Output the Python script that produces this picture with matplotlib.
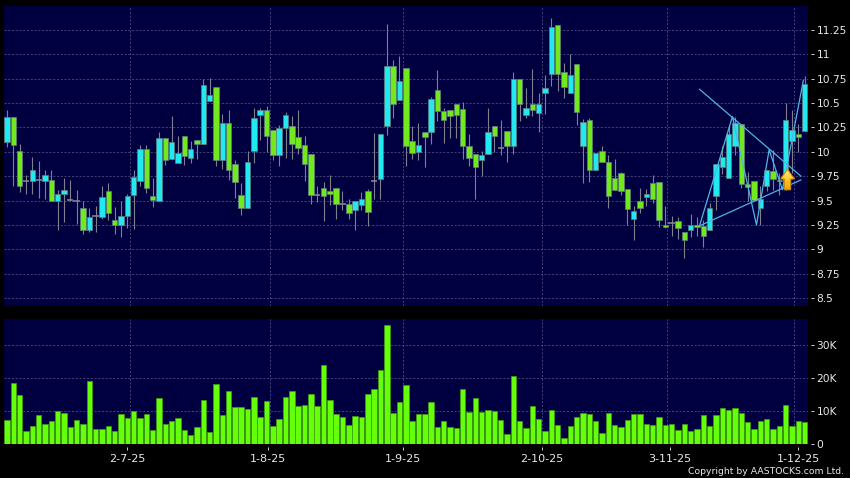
import matplotlib
matplotlib.use("Agg")
import matplotlib.pyplot as plt
import numpy as np
from matplotlib.patches import Polygon

open_ = [10.10,10.36,10.01,9.70,9.70,9.71,9.70,9.71,9.49,9.57,9.51,9.50,9.42,9.20,9.34,9.33,9.60,9.30,9.25,9.34,
         9.56,9.70,10.03,9.55,9.50,10.14,9.93,9.88,10.16,9.94,10.12,10.08,10.52,10.66,9.92,10.29,9.87,9.56,9.42,10.01,
         10.38,10.43,10.22,9.97,10.24,10.26,10.15,10.07,9.98,9.56,9.63,9.60,9.63,9.46,9.46,9.40,9.45,9.60,9.70,9.72,
         10.26,10.88,10.53,10.86,10.11,10.00,10.20,10.20,10.63,10.42,10.43,10.49,10.44,10.06,9.98,9.92,9.98,10.26,10.04,10.21,
         10.06,10.74,10.38,10.49,10.40,10.60,10.80,11.30,10.82,10.60,10.90,10.06,10.32,9.81,10.01,9.89,9.73,9.78,9.62,9.31,
         9.50,9.54,9.68,9.69,9.25,9.27,9.29,9.18,9.20,9.25,9.24,9.20,9.55,9.84,9.73,10.06,10.28,9.67,9.70,9.42,
         9.65,9.80,9.71,9.71,10.11,10.18,10.21]
high = [10.43,10.36,10.08,9.76,9.95,9.90,9.81,9.81,9.61,9.73,9.71,9.61,9.50,9.42,9.44,9.65,9.68,9.43,9.50,9.57,
        9.81,10.07,10.07,9.73,10.20,10.14,10.37,10.16,10.16,10.11,10.12,10.74,10.76,10.66,10.39,10.43,9.91,9.68,10.01,10.45,
        10.45,10.47,10.22,10.27,10.41,10.37,10.43,10.16,9.98,9.65,9.69,9.76,9.63,9.60,9.52,9.49,9.59,9.62,10.19,10.18,
        11.31,10.94,10.98,10.86,10.26,10.29,10.20,10.56,10.84,10.45,10.43,10.49,10.51,10.18,9.98,10.01,10.45,10.26,10.32,10.21,
        10.82,10.74,10.65,10.85,10.60,10.79,11.37,11.30,10.91,11.00,10.90,10.34,10.35,9.99,10.06,9.97,9.93,9.79,9.62,9.44,
        9.63,9.62,9.76,9.69,9.44,9.34,9.33,9.18,9.36,9.33,9.30,9.47,9.87,10.06,10.27,10.36,10.28,9.79,9.70,9.65,
        9.81,10.02,9.78,10.50,10.43,10.28,10.78]
low = [10.05,9.65,9.59,9.57,9.57,9.53,9.52,9.49,9.20,9.28,9.50,9.26,9.16,9.18,9.18,9.31,9.30,9.16,9.13,9.22,
       9.21,9.65,9.58,9.43,9.50,9.86,9.93,9.88,9.86,9.88,9.93,10.08,10.52,9.85,9.82,9.71,9.53,9.35,9.42,9.88,
       10.12,10.00,9.92,9.85,9.94,9.93,9.98,9.70,9.46,9.48,9.29,9.45,9.31,9.40,9.31,9.20,9.40,9.24,9.52,9.52,
       10.17,10.35,10.53,9.85,9.93,9.91,9.84,10.08,10.31,10.09,10.14,10.14,9.93,9.85,9.52,9.75,9.98,10.00,9.97,9.89,
       9.98,10.31,10.35,10.37,10.20,10.39,10.67,10.62,10.55,10.60,10.27,9.68,9.69,9.81,9.89,9.42,9.61,9.56,9.25,9.10,
       9.37,9.44,9.47,9.23,9.22,9.14,9.11,8.91,9.13,9.14,9.02,9.20,9.40,9.77,9.73,9.97,9.63,9.49,9.49,9.25,
       9.60,9.61,9.56,9.61,9.78,10.00,10.21]
close = [10.36,10.07,9.65,9.70,9.81,9.71,9.76,9.49,9.57,9.61,9.51,9.50,9.20,9.33,9.34,9.54,9.37,9.25,9.34,9.55,
         9.74,10.03,9.63,9.51,10.14,9.92,10.10,9.99,9.96,10.03,10.08,10.68,10.58,9.91,10.29,9.81,9.69,9.42,9.89,10.35,
         10.43,10.16,9.97,10.24,10.38,10.08,10.04,9.87,9.56,9.56,9.55,9.57,9.46,9.46,9.37,9.49,9.52,9.38,9.70,10.18,
         10.88,10.49,10.72,10.06,9.99,10.07,10.15,10.54,10.42,10.32,10.37,10.38,10.06,9.94,9.84,9.97,10.20,10.16,10.04,10.06,
         10.74,10.49,10.45,10.43,10.49,10.65,11.28,10.80,10.66,10.79,10.41,10.30,9.81,9.99,9.89,9.55,9.61,9.60,9.41,9.39,
         9.42,9.57,9.52,9.30,9.23,9.27,9.22,9.10,9.25,9.23,9.14,9.42,9.87,9.95,10.18,10.29,9.67,9.64,9.51,9.52,
         9.81,9.72,9.70,10.32,10.22,10.15,10.69]
volume = [7.2,18.5,14.9,3.8,5.4,8.7,6.0,7.0,10.0,9.2,4.9,7.3,6.0,18.9,4.3,4.5,5.4,3.8,9.1,7.7,
          9.9,7.8,9.0,4.0,13.9,5.8,6.7,7.7,4.2,2.6,5.1,13.2,3.6,18.0,8.6,16.1,11.2,11.0,10.6,14.2,
          8.0,12.8,5.4,7.6,14.1,15.9,11.4,11.8,15.1,11.3,24.0,13.1,9.1,8.2,5.7,8.3,8.1,15.2,16.6,22.4,
          36.1,9.4,12.6,17.8,6.7,9.1,9.1,12.7,4.9,6.8,4.9,4.7,16.7,9.5,13.7,9.6,10.1,10.0,7.1,2.9,
          20.6,6.8,4.8,11.5,7.5,3.7,10.1,5.5,1.7,5.3,8.2,9.4,8.9,6.7,3.1,9.3,5.5,4.9,7.1,9.0,
          9.0,5.8,5.5,8.2,5.7,5.8,4.2,5.9,3.7,4.4,8.6,5.4,8.6,10.7,10.1,10.8,9.3,6.5,4.4,6.8,
          7.4,4.4,5.4,11.8,5.4,6.8,6.5]
price_ticks = [8.5,8.75,9,9.25,9.5,9.75,10,10.25,10.5,10.75,11,11.25]
price_labels = ["8.5","8.75","9","9.25","9.5","9.75","10","10.25","10.5","10.75","11","11.25"]
vol_ticks = [0,10,20,30]
vol_labels = ["0","10K","20K","30K"]
date_labels = ["2-7-25","1-8-25","1-9-25","2-10-25","3-11-25","1-12-25"]
date_ticks = [19.0,41.2,62.5,84.5,104.7,125.0]
date_grid = [19.5,41.5,62.5,84.5,104.3,124.3]
upper_x = [109.4,125.4]; upper_y = [10.64,9.75]
lower_x = [109.4,125.4]; lower_y = [9.24,9.71]
zig_x = [109.4,114.6,118.4,120.4,122.5,125.8]
zig_y = [9.24,10.36,9.25,10.02,9.61,10.73]
arrow_x = [123.3,124.4,123.8,123.8,122.8,122.8,122.2]
arrow_y = [9.82,9.72,9.72,9.61,9.61,9.72,9.72]

W, H = 850, 478
BG = "#000040"; GRID = "#4c4c82"; CY = "#22e8f0"; GR = "#72e81e"; EDGE = "#5f8080"; WICK = "#80808c"
plt.rcParams["font.family"] = "DejaVu Sans"
fig = plt.figure(figsize=(W/100, H/100), dpi=100, facecolor="black")
def axpx(l, t, r, b):
    return fig.add_axes([l/W, 1-b/H, (r-l)/W, (b-t)/H], facecolor=BG)
ax = axpx(4, 6, 807.5, 306)
av = axpx(4, 319, 807.5, 443.5)
xlim = (-0.474, 126.46)
o, h, l, c = map(np.array, (open_, high, low, close))
x = np.arange(len(o))

ax.set_xlim(xlim); ax.set_ylim(8.419, 11.493)
ax.vlines(x, l, h, color=WICK, lw=0.8, zorder=2)
up = c > o; dn = c < o; dj = c == o
ax.bar(x[up], (c-o)[up], bottom=o[up], width=0.86, color=CY, edgecolor=EDGE, lw=0.5, zorder=3)
ax.bar(x[dn], (c-o)[dn], bottom=o[dn], width=0.86, color=GR, edgecolor=EDGE, lw=0.5, zorder=3)
ax.hlines(o[dj], x[dj]-0.5, x[dj]+0.5, color="#8a8a96", lw=1.1, zorder=3)
ax.plot(upper_x, upper_y, color="#4fb4e6", lw=0.9, zorder=4)
ax.plot(lower_x, lower_y, color="#4fb4e6", lw=0.9, zorder=4)
ax.plot(zig_x, zig_y, color="#4fb4e6", lw=0.9, zorder=4)
poly = Polygon(np.column_stack([arrow_x, arrow_y]), closed=True, fc="none", ec="#c98a10", lw=0.8, zorder=6)
ax.add_patch(poly)
grad = np.linspace(0, 1, 32).reshape(-1, 1)
cmap = matplotlib.colors.LinearSegmentedColormap.from_list("a", ["#fff08a", "#ffc820", "#f2a010"])
im = ax.imshow(grad, extent=(min(arrow_x), max(arrow_x), min(arrow_y), max(arrow_y)), cmap=cmap,
               aspect="auto", origin="upper", zorder=5)
im.set_clip_path(poly)
ax.set_xlim(xlim); ax.set_ylim(8.419, 11.493)

av.set_xlim(xlim); av.set_ylim(0, 37.9)
av.bar(x, volume, width=0.86, color="#66ff0a", edgecolor="#3f9e10", lw=0.5, zorder=3)

for a in (ax, av):
    for s in ("left", "top"):
        a.spines[s].set_visible(False)
    a.spines["right"].set_position(("outward", 2.5)); a.spines["right"].set_visible(False)
    a.spines["bottom"].set_position(("outward", 2.6)); a.spines["bottom"].set_visible(False)
    a.yaxis.tick_right()
    a.tick_params(axis="y", length=2.5, width=0.7, color="#d0d0d0", labelcolor="#e8e8e8", labelsize=7.7, pad=1.6)
    a.set_axisbelow(True)
    a.grid(axis="y", color=GRID, lw=0.6, ls=(0, (2.5, 2)), zorder=1)
    a.vlines(date_grid, *a.get_ylim(), color=GRID, lw=0.6, ls=(0, (2.5, 2)), zorder=1)
ax.set_yticks(price_ticks, price_labels)
ax.tick_params(axis="x", bottom=False, labelbottom=False)
av.set_yticks(vol_ticks, vol_labels)
av.set_xticks(date_ticks, date_labels)
av.tick_params(axis="x", length=2.2, width=0.7, color="#d0d0d0", labelcolor="#e8e8e8", labelsize=8.0, pad=3)
fig.text(844/W, 1-471.5/H, "Copyright by AASTOCKS.com Ltd.", ha="right", va="center", color="#e8e8e8", fontsize=6.7)
fig.savefig("out.png", dpi=100, facecolor="black")
